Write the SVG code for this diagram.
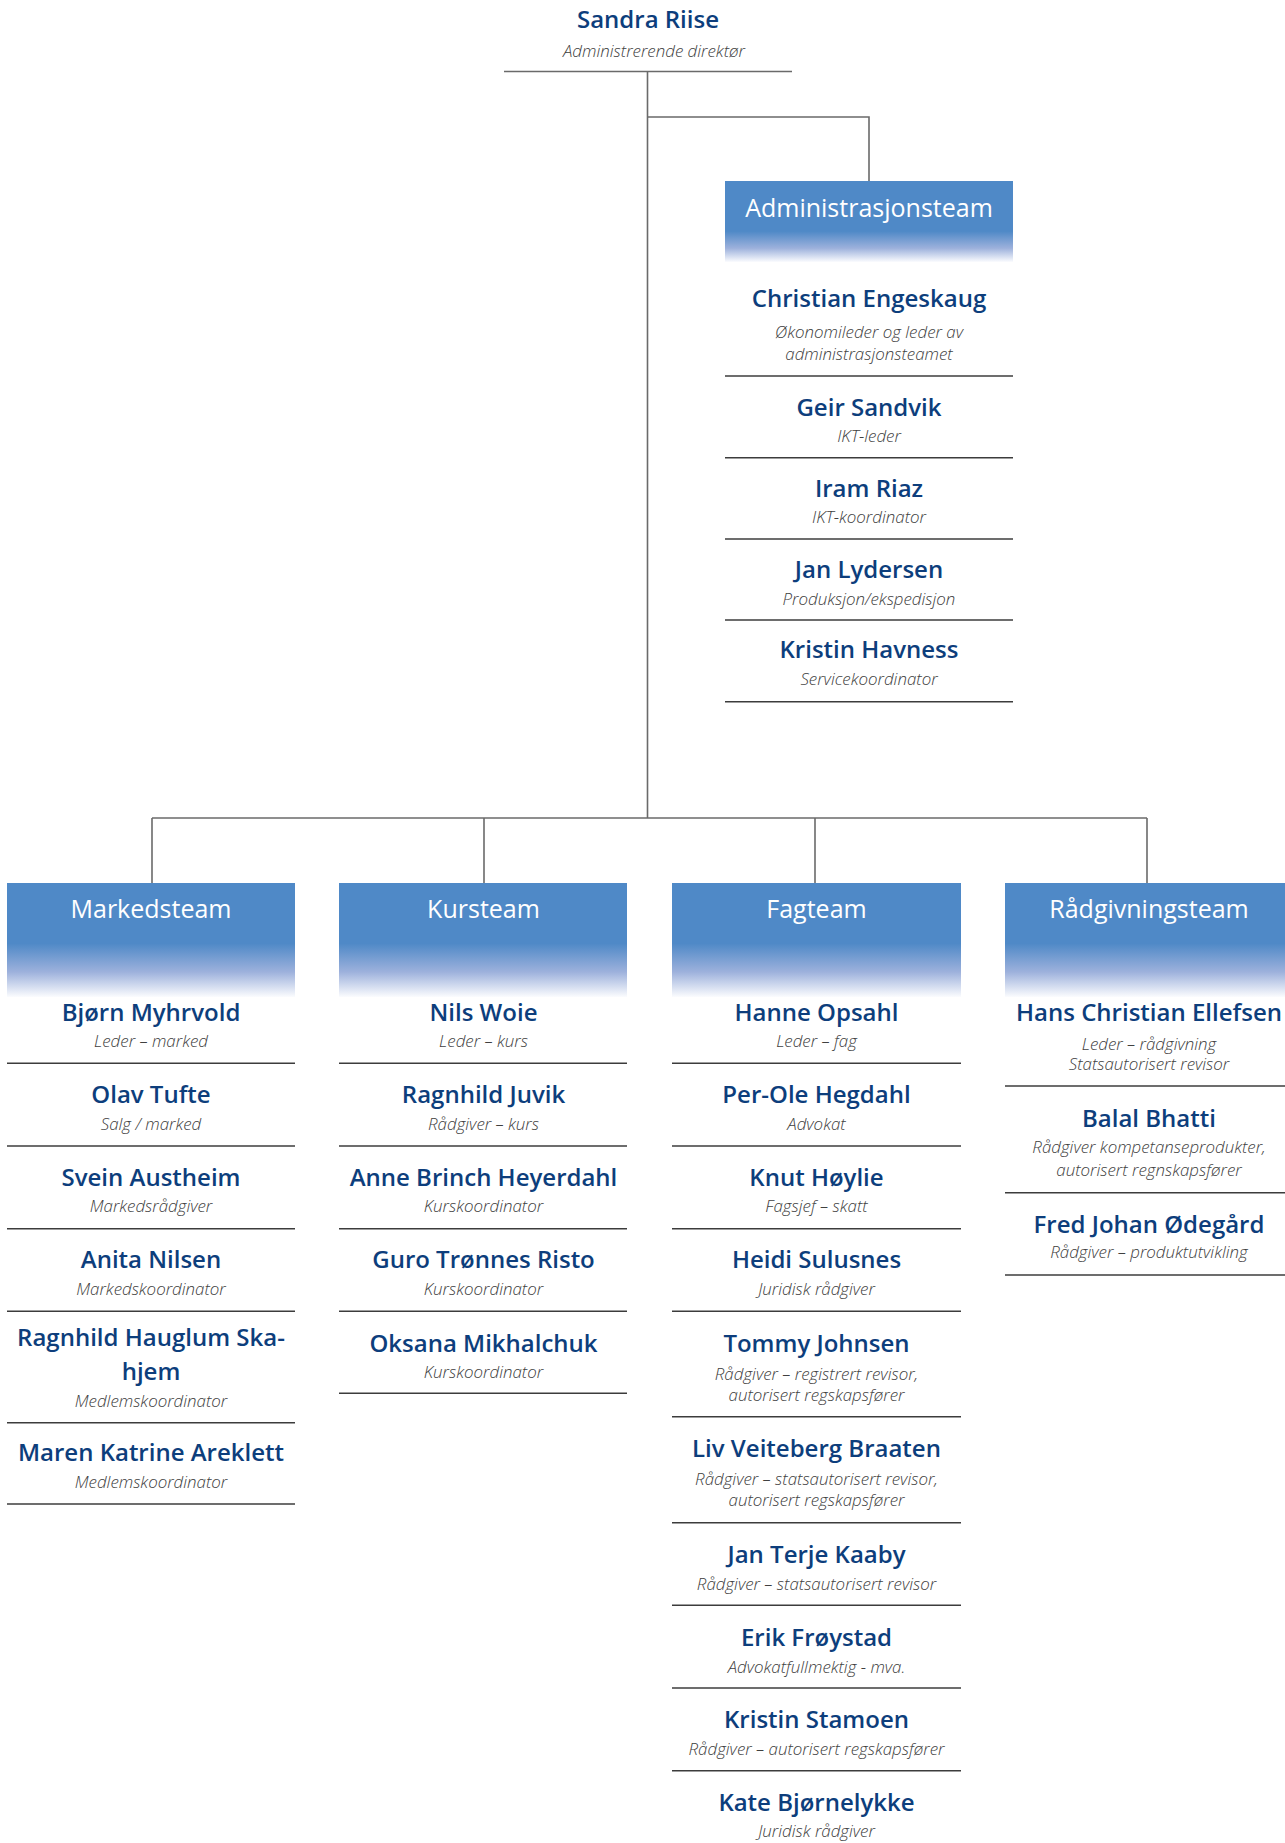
<svg xmlns="http://www.w3.org/2000/svg" width="1285" height="1843" viewBox="0 0 1285 1843">
<style>
.nm{font-family:"Open Sans","Noto Sans","Liberation Sans",sans-serif;font-weight:600;font-size:24px;fill:#0d3e7c;text-anchor:middle}
.tt{font-family:"Open Sans","Noto Sans","Liberation Sans",sans-serif;font-weight:300;font-style:italic;font-size:16.9px;fill:#404040;text-anchor:middle}
.hd{font-family:"Open Sans","Noto Sans","Liberation Sans",sans-serif;font-weight:400;font-size:25px;fill:#ffffff;text-anchor:middle}
.sep{stroke:#3c3c3c;stroke-width:1.6;fill:none}
.con{stroke:#6a6a6a;stroke-width:1.6;fill:none}
</style>
<defs>
<linearGradient id="gTeam" x1="0" y1="0" x2="0" y2="1">
<stop offset="0" stop-color="#4f89c7"/>
<stop offset="0.53" stop-color="#4f89c7"/>
<stop offset="0.78" stop-color="#9db1dc"/>
<stop offset="1" stop-color="#fbfcfe"/>
</linearGradient>
<linearGradient id="gAdm" x1="0" y1="0" x2="0" y2="1">
<stop offset="0" stop-color="#4f89c7"/>
<stop offset="0.62" stop-color="#4f89c7"/>
<stop offset="0.83" stop-color="#9db1dc"/>
<stop offset="1" stop-color="#fbfcfe"/>
</linearGradient>
</defs>
<rect width="1285" height="1843" fill="#ffffff"/>

<g id="connectors">
<line class="con" x1="504" y1="71.5" x2="792" y2="71.5"/>
<line class="con" x1="647.5" y1="72" x2="647.5" y2="818"/>
<polyline class="con" points="647.5,117 869,117 869,181"/>
<line class="con" x1="152" y1="818" x2="1147" y2="818"/>
<line class="con" x1="152" y1="818" x2="152" y2="883"/>
<line class="con" x1="484" y1="818" x2="484" y2="883"/>
<line class="con" x1="815" y1="818" x2="815" y2="883"/>
<line class="con" x1="1147" y1="818" x2="1147" y2="883"/>
</g>

<g id="sandra-riise">
<text class="nm" x="648" y="28">Sandra Riise</text>
<text class="tt" x="654" y="57">Administrerende direktør</text>
</g>

<g id="administrasjonsteam">
<rect x="725" y="181" width="288" height="81" fill="url(#gAdm)"/>
<text class="hd" x="869" y="216.7">Administrasjonsteam</text>
</g>
<g id="christian-engeskaug">
<text class="nm" x="869" y="307.3">Christian Engeskaug</text>
<text class="tt" x="869" y="338">Økonomileder og leder av</text>
<text class="tt" x="869" y="360">administrasjonsteamet</text>
<line class="sep" x1="725" y1="376" x2="1013" y2="376"/>
</g>
<g id="geir-sandvik">
<text class="nm" x="869" y="415.7">Geir Sandvik</text>
<text class="tt" x="869" y="441.7">IKT-leder</text>
<line class="sep" x1="725" y1="457.7" x2="1013" y2="457.7"/>
</g>
<g id="iram-riaz">
<text class="nm" x="869" y="497.3">Iram Riaz</text>
<text class="tt" x="869" y="523.3">IKT-koordinator</text>
<line class="sep" x1="725" y1="539" x2="1013" y2="539"/>
</g>
<g id="jan-lydersen">
<text class="nm" x="869" y="578.3">Jan Lydersen</text>
<text class="tt" x="869" y="605">Produksjon/ekspedisjon</text>
<line class="sep" x1="725" y1="620" x2="1013" y2="620"/>
</g>
<g id="kristin-havness">
<text class="nm" x="869" y="658.3">Kristin Havness</text>
<text class="tt" x="869" y="685">Servicekoordinator</text>
<line class="sep" x1="725" y1="701.7" x2="1013" y2="701.7"/>
</g>

<g id="markedsteam">
<rect x="7" y="883" width="288" height="114" fill="url(#gTeam)"/>
<text class="hd" x="151" y="918">Markedsteam</text>
</g>
<g id="bjorn-myhrvold">
<text class="nm" x="151" y="1020.7">Bjørn Myhrvold</text>
<text class="tt" x="151" y="1046.7">Leder – marked</text>
<line class="sep" x1="7" y1="1063.3" x2="295" y2="1063.3"/>
</g>
<g id="olav-tufte">
<text class="nm" x="151" y="1103.3">Olav Tufte</text>
<text class="tt" x="151" y="1130">Salg / marked</text>
<line class="sep" x1="7" y1="1146" x2="295" y2="1146"/>
</g>
<g id="svein-austheim">
<text class="nm" x="151" y="1186">Svein Austheim</text>
<text class="tt" x="151" y="1212.3">Markedsrådgiver</text>
<line class="sep" x1="7" y1="1228.7" x2="295" y2="1228.7"/>
</g>
<g id="anita-nilsen">
<text class="nm" x="151" y="1268.3">Anita Nilsen</text>
<text class="tt" x="151" y="1295">Markedskoordinator</text>
<line class="sep" x1="7" y1="1311.3" x2="295" y2="1311.3"/>
</g>
<g id="ragnhild-hauglum-skahjem">
<text class="nm" x="151" y="1346">Ragnhild Hauglum Ska-</text>
<text class="nm" x="151" y="1380">hjem</text>
<text class="tt" x="151" y="1406.7">Medlemskoordinator</text>
<line class="sep" x1="7" y1="1422.7" x2="295" y2="1422.7"/>
</g>
<g id="maren-katrine-areklett">
<text class="nm" x="151" y="1460.7">Maren Katrine Areklett</text>
<text class="tt" x="151" y="1488.3">Medlemskoordinator</text>
<line class="sep" x1="7" y1="1504" x2="295" y2="1504"/>
</g>

<g id="kursteam">
<rect x="339" y="883" width="288" height="114" fill="url(#gTeam)"/>
<text class="hd" x="483.5" y="918">Kursteam</text>
</g>
<g id="nils-woie">
<text class="nm" x="483.5" y="1020.7">Nils Woie</text>
<text class="tt" x="483.5" y="1046.7">Leder – kurs</text>
<line class="sep" x1="339" y1="1063.3" x2="627" y2="1063.3"/>
</g>
<g id="ragnhild-juvik">
<text class="nm" x="483.5" y="1103.3">Ragnhild Juvik</text>
<text class="tt" x="483.5" y="1130">Rådgiver – kurs</text>
<line class="sep" x1="339" y1="1146" x2="627" y2="1146"/>
</g>
<g id="anne-brinch-heyerdahl">
<text class="nm" x="483.5" y="1186">Anne Brinch Heyerdahl</text>
<text class="tt" x="483.5" y="1212.3">Kurskoordinator</text>
<line class="sep" x1="339" y1="1228.7" x2="627" y2="1228.7"/>
</g>
<g id="guro-tronnes-risto">
<text class="nm" x="483.5" y="1268.3">Guro Trønnes Risto</text>
<text class="tt" x="483.5" y="1295">Kurskoordinator</text>
<line class="sep" x1="339" y1="1311.3" x2="627" y2="1311.3"/>
</g>
<g id="oksana-mikhalchuk">
<text class="nm" x="483.5" y="1351.7">Oksana Mikhalchuk</text>
<text class="tt" x="483.5" y="1378.3">Kurskoordinator</text>
<line class="sep" x1="339" y1="1393.3" x2="627" y2="1393.3"/>
</g>

<g id="fagteam">
<rect x="672" y="883" width="289" height="114" fill="url(#gTeam)"/>
<text class="hd" x="816.5" y="918">Fagteam</text>
</g>
<g id="hanne-opsahl">
<text class="nm" x="816.5" y="1020.7">Hanne Opsahl</text>
<text class="tt" x="816.5" y="1046.7">Leder – fag</text>
<line class="sep" x1="672" y1="1063.3" x2="961" y2="1063.3"/>
</g>
<g id="per-ole-hegdahl">
<text class="nm" x="816.5" y="1103.3">Per-Ole Hegdahl</text>
<text class="tt" x="816.5" y="1130">Advokat</text>
<line class="sep" x1="672" y1="1146" x2="961" y2="1146"/>
</g>
<g id="knut-hoylie">
<text class="nm" x="816.5" y="1186">Knut Høylie</text>
<text class="tt" x="816.5" y="1212.3">Fagsjef – skatt</text>
<line class="sep" x1="672" y1="1228.7" x2="961" y2="1228.7"/>
</g>
<g id="heidi-sulusnes">
<text class="nm" x="816.5" y="1268.3">Heidi Sulusnes</text>
<text class="tt" x="816.5" y="1295">Juridisk rådgiver</text>
<line class="sep" x1="672" y1="1311.3" x2="961" y2="1311.3"/>
</g>
<g id="tommy-johnsen">
<text class="nm" x="816.5" y="1351.7">Tommy Johnsen</text>
<text class="tt" x="816.5" y="1380">Rådgiver – registrert revisor,</text>
<text class="tt" x="816.5" y="1401">autorisert regskapsfører</text>
<line class="sep" x1="672" y1="1416.7" x2="961" y2="1416.7"/>
</g>
<g id="liv-veiteberg-braaten">
<text class="nm" x="816.5" y="1457.3">Liv Veiteberg Braaten</text>
<text class="tt" x="816.5" y="1485">Rådgiver – statsautorisert revisor,</text>
<text class="tt" x="816.5" y="1506">autorisert regskapsfører</text>
<line class="sep" x1="672" y1="1522.7" x2="961" y2="1522.7"/>
</g>
<g id="jan-terje-kaaby">
<text class="nm" x="816.5" y="1563.3">Jan Terje Kaaby</text>
<text class="tt" x="816.5" y="1590">Rådgiver – statsautorisert revisor</text>
<line class="sep" x1="672" y1="1605.3" x2="961" y2="1605.3"/>
</g>
<g id="erik-froystad">
<text class="nm" x="816.5" y="1645.7">Erik Frøystad</text>
<text class="tt" x="816.5" y="1672.7">Advokatfullmektig - mva.</text>
<line class="sep" x1="672" y1="1688" x2="961" y2="1688"/>
</g>
<g id="kristin-stamoen">
<text class="nm" x="816.5" y="1728.3">Kristin Stamoen</text>
<text class="tt" x="816.5" y="1755">Rådgiver – autorisert regskapsfører</text>
<line class="sep" x1="672" y1="1770.7" x2="961" y2="1770.7"/>
</g>
<g id="kate-bjornelykke">
<text class="nm" x="816.5" y="1810.7">Kate Bjørnelykke</text>
<text class="tt" x="816.5" y="1837.3">Juridisk rådgiver</text>
</g>

<g id="radgivningsteam">
<rect x="1005" y="883" width="288" height="114" fill="url(#gTeam)"/>
<text class="hd" x="1149" y="918">Rådgivningsteam</text>
</g>
<g id="hans-christian-ellefsen">
<text class="nm" x="1149" y="1020.7">Hans Christian Ellefsen</text>
<text class="tt" x="1149" y="1050">Leder – rådgivning</text>
<text class="tt" x="1149" y="1070">Statsautorisert revisor</text>
<line class="sep" x1="1005" y1="1086" x2="1293" y2="1086"/>
</g>
<g id="balal-bhatti">
<text class="nm" x="1149" y="1126.7">Balal Bhatti</text>
<text class="tt" x="1149" y="1153">Rådgiver kompetanseprodukter,</text>
<text class="tt" x="1149" y="1176">autorisert regnskapsfører</text>
<line class="sep" x1="1005" y1="1192.7" x2="1293" y2="1192.7"/>
</g>
<g id="fred-johan-odegard">
<text class="nm" x="1149" y="1232.7">Fred Johan Ødegård</text>
<text class="tt" x="1149" y="1258.3">Rådgiver – produktutvikling</text>
<line class="sep" x1="1005" y1="1275" x2="1293" y2="1275"/>
</g>
</svg>
